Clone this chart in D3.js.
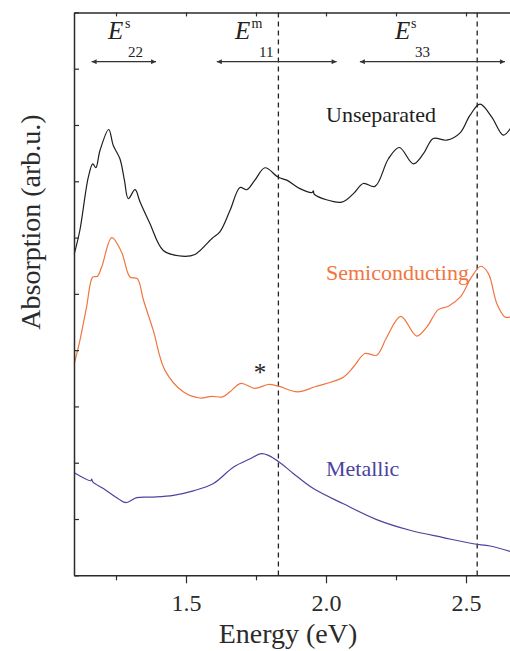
<!DOCTYPE html>
<html>
<head>
<meta charset="utf-8">
<script src="https://cdn.jsdelivr.net/npm/d3@7"></script>
<style>
  html, body { margin: 0; padding: 0; background: #fff; }
  svg { display: block; }
  svg text { font-family: 'Liberation Serif'; }
</style>
</head>
<body>
<svg id="chart" width="510" height="651"></svg>
<script>
// Absorption spectra, [energy eV, absorption arb.u.] (curves offset vertically)
const unseparated = [
  [1.101, 5.71], [1.121, 6.13], [1.151, 7.07], [1.167, 7.31], [1.178, 7.24],
  [1.193, 7.55], [1.224, 7.92], [1.240, 7.64], [1.264, 7.40], [1.280, 7.02],
  [1.294, 6.69], [1.318, 6.85], [1.336, 6.63], [1.371, 6.25], [1.419, 5.77],
  [1.485, 5.67], [1.532, 5.70], [1.592, 5.98], [1.621, 6.10], [1.657, 6.48],
  [1.693, 6.89], [1.717, 6.85], [1.746, 7.02], [1.782, 7.24], [1.830, 7.07],
  [1.860, 7.02], [1.907, 6.87], [1.950, 6.80], [1.955, 6.83], [1.958, 6.77],
  [2.056, 6.63], [2.098, 6.78], [2.133, 6.96], [2.175, 6.91], [2.223, 7.40],
  [2.262, 7.60], [2.312, 7.31], [2.348, 7.49], [2.383, 7.76], [2.431, 7.73],
  [2.479, 7.86], [2.514, 8.17], [2.550, 8.37], [2.592, 8.14], [2.633, 7.82],
  [2.660, 7.95]
];

const semiconducting = [
  [1.101, 3.76], [1.121, 4.17], [1.145, 4.77], [1.167, 5.30], [1.183, 5.31],
  [1.199, 5.48], [1.235, 6.00], [1.270, 5.74], [1.300, 5.30], [1.326, 5.27],
  [1.348, 4.89], [1.383, 4.35], [1.425, 3.64], [1.490, 3.26], [1.550, 3.15],
  [1.592, 3.18], [1.631, 3.17], [1.657, 3.26], [1.696, 3.41], [1.746, 3.32],
  [1.794, 3.39], [1.830, 3.36], [1.898, 3.26], [1.961, 3.35], [2.062, 3.52],
  [2.098, 3.70], [2.139, 3.94], [2.181, 3.91], [2.217, 4.23], [2.267, 4.60],
  [2.324, 4.25], [2.360, 4.41], [2.401, 4.72], [2.437, 4.78], [2.479, 4.94],
  [2.520, 5.30], [2.553, 5.49], [2.580, 5.36], [2.610, 4.83], [2.639, 4.59],
  [2.660, 4.59]
];

const metallic = [
  [1.101, 1.82], [1.160, 1.68], [1.163, 1.71], [1.167, 1.66], [1.205, 1.54],
  [1.258, 1.36], [1.286, 1.29], [1.324, 1.38], [1.383, 1.39], [1.455, 1.42],
  [1.526, 1.50], [1.598, 1.63], [1.669, 1.92], [1.729, 2.07], [1.770, 2.16],
  [1.794, 2.13], [1.836, 2.00], [1.883, 1.81], [1.955, 1.54], [2.062, 1.27],
  [2.181, 0.99], [2.300, 0.80], [2.419, 0.67], [2.526, 0.56], [2.586, 0.52],
  [2.660, 0.42]
];

const seriesNames = ["Unseparated", "Semiconducting", "Metallic"];
const seriesData = [unseparated, semiconducting, metallic];
const seriesColors = ["#1e1e1e", "#f0753f", "#4a449e"];
const seriesLabelAt = [[2.0, 8.05], [2.0, 5.24], [2.0, 1.76]];

// Transition bands: name, superscript, subscript, arrow range (eV), label start (eV)
const bandBase = ["E", "E", "E"];
const bandSup = ["s", "m", "s"];
const bandSub = ["22", "11", "33"];
const bandRanges = [[1.163, 1.393], [1.610, 2.038], [2.121, 2.639]];
const bandLabelAt = [1.221, 1.675, 2.246];

// Resonance markers
const markerLines = [1.83, 2.54];
const asteriskAt = [1.764, 3.45];

// Axis ticks
const xMajorTicks = [1.5, 2.0, 2.5];
const xMinorTicks = [1.25, 1.75, 2.25];
const xTickLabels = ["1.5", "2.0", "2.5"];
const yTicks = [0, 1, 2, 3, 4, 5, 6, 7, 8, 9, 10];

const serif = "Liberation Serif";
const svg = d3.select("#chart");
const plotLeft = 74, plotRight = 522, plotTop = 12.4, plotBottom = 575.3;

const x = d3.scaleLinear().domain([1.1, 2.7]).range([plotLeft, plotRight]);
const y = d3.scaleLinear().domain([0, 10]).range([plotBottom, plotTop]);

const axisColor = "#2b2b2b";

// dashed reference lines
svg.append("g").selectAll("line").data(markerLines).join("line")
  .attr("x1", d => x(d)).attr("x2", d => x(d))
  .attr("y1", plotTop).attr("y2", plotBottom)
  .attr("stroke", "#222").attr("stroke-width", 1.3)
  .attr("stroke-dasharray", "5,4");

// spectra
const line = d3.line()
  .x(d => x(d[0])).y(d => y(d[1]))
  .curve(d3.curveCatmullRom.alpha(0.5));

svg.append("g").selectAll("path").data(seriesData).join("path")
  .attr("d", line)
  .attr("fill", "none")
  .attr("stroke", (d, i) => seriesColors[i])
  .attr("stroke-width", 1.2);

// series labels
svg.append("g").selectAll("text").data(seriesNames).join("text")
  .attr("x", (d, i) => x(seriesLabelAt[i][0]))
  .attr("y", (d, i) => y(seriesLabelAt[i][1]))
  .attr("fill", (d, i) => seriesColors[i])
  .style("font-family", serif)
  .style("font-size", "22px")
  .text(d => d);

// asterisk
svg.append("text")
  .attr("x", x(asteriskAt[0])).attr("y", y(asteriskAt[1]))
  .attr("text-anchor", "middle")
  .style("font-family", serif)
  .style("font-size", "25px")
  .attr("fill", "#222")
  .text("*");

// band arrows
const defs = svg.append("defs");
["start", "end"].forEach(k => {
  defs.append("marker")
    .attr("id", "arrow-" + k)
    .attr("viewBox", "0 0 10 10")
    .attr("refX", k === "end" ? 10 : 0).attr("refY", 5)
    .attr("markerWidth", 8).attr("markerHeight", 5)
    .attr("markerUnits", "userSpaceOnUse")
    .attr("orient", "auto")
    .append("path")
    .attr("d", k === "end" ? "M0,0 L10,5 L0,10 Z" : "M10,0 L0,5 L10,10 Z")
    .attr("fill", "#333");
});

const arrowY = 61.7;
svg.append("g").selectAll("line").data(bandRanges).join("line")
  .attr("x1", d => x(d[0])).attr("x2", d => x(d[1]))
  .attr("y1", arrowY).attr("y2", arrowY)
  .attr("stroke", "#333").attr("stroke-width", 1.3)
  .attr("marker-start", "url(#arrow-start)")
  .attr("marker-end", "url(#arrow-end)");

// label layout offsets (px) for superscript / subscript next to the italic E
const supDx = [17, 16.5, 16];
const subDx = [20, 24, 20];

const bands = svg.append("g").selectAll("g").data(bandBase).join("g")
  .attr("transform", (d, i) => `translate(${x(bandLabelAt[i])},0)`)
  .attr("fill", "#222");
bands.append("text")
  .attr("x", 0).attr("y", 38.5)
  .style("font-family", serif)
  .style("font-size", "25px").style("font-style", "italic")
  .text(d => d);
bands.append("text")
  .attr("x", (d, i) => supDx[i]).attr("y", 28)
  .style("font-family", serif)
  .style("font-size", "14px")
  .text((d, i) => bandSup[i]);
bands.append("text")
  .attr("x", (d, i) => subDx[i]).attr("y", 56.5)
  .style("font-family", serif)
  .style("font-size", "15px")
  .text((d, i) => bandSub[i]);

// axes
const gx = svg.append("g").attr("transform", `translate(0,${plotBottom})`);
gx.call(d3.axisBottom(x).tickValues(xMajorTicks).tickSize(8).tickSizeOuter(0)
  .tickFormat((d, i) => xTickLabels[i]));
gx.append("g").call(d3.axisBottom(x).tickValues(xMinorTicks).tickSize(5).tickFormat(""))
  .select(".domain").remove();
gx.attr("font-family", null);
gx.selectAll("text")
  .attr("y", 36).attr("dy", 0)
  .style("font-size", "24px")
  .style("font-family", serif)
  .attr("fill", "#2b2b2b");

const gTop = svg.append("g").attr("transform", `translate(0,${plotTop})`);
gTop.call(d3.axisTop(x).tickValues(xMajorTicks.concat(xMinorTicks)).tickSize(-4)
  .tickSizeOuter(0).tickFormat(""));

const gy = svg.append("g").attr("transform", `translate(${plotLeft},0)`);
gy.call(d3.axisLeft(y).tickValues(yTicks).tickSize(-5).tickSizeOuter(0).tickFormat(""));

svg.selectAll(".domain").attr("stroke", axisColor).attr("stroke-width", 1.5);
svg.selectAll(".tick line").attr("stroke", axisColor).attr("stroke-width", 1.2);

// axis titles
svg.append("text")
  .attr("x", 288).attr("y", 643)
  .attr("text-anchor", "middle")
  .style("font-family", serif)
  .style("font-size", "28px")
  .attr("fill", "#2b2b2b")
  .text("Energy (eV)");

svg.append("text")
  .attr("transform", "translate(40,222) rotate(-90)")
  .attr("text-anchor", "middle")
  .style("font-family", serif)
  .style("font-size", "28px")
  .attr("fill", "#2b2b2b")
  .text("Absorption (arb.u.)");
</script>
</body>
</html>
